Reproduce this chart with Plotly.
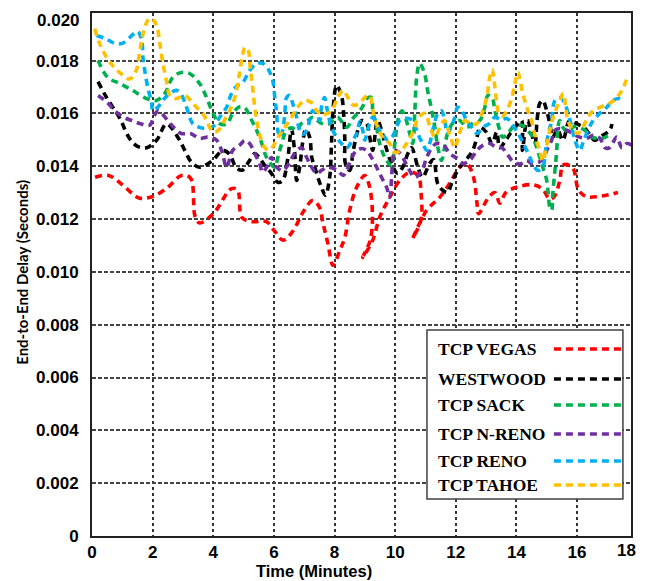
import plotly.graph_objects as go

# ---------------- data (x in minutes, y in seconds) ----------------
vegas_x = [0.1, 0.55, 1.0, 1.55, 2.0, 2.5, 2.95, 3.25, 3.4, 3.55, 4.0, 4.6, 4.8, 4.95, 5.3, 5.75,
           6.05, 6.3, 6.6, 7.0, 7.28, 7.5, 7.62, 7.78, 7.95, 8.17, 8.34, 8.5, 8.73, 9.0, 9.15, 9.25,
           9.18, 8.93, 9.26, 9.49, 9.82, 10.15, 10.48, 10.75, 10.86, 10.85, 10.58, 11.04, 11.47,
           11.8, 12.13, 12.36, 12.58, 12.7, 12.75, 13.1, 13.3, 13.45, 13.65, 14.0, 14.5, 14.85,
           15.1, 15.25, 15.42, 15.55, 15.85, 16.05, 16.3, 16.7, 17.35]
vegas_y = [0.01358, 0.01365, 0.01330, 0.01280, 0.01285, 0.01320, 0.01365, 0.01355, 0.01210, 0.01185,
           0.01220, 0.01315, 0.01310, 0.01205, 0.01190, 0.01190, 0.01150, 0.01120, 0.01150, 0.01233,
           0.01270, 0.01245, 0.01184, 0.01108, 0.01025, 0.01080, 0.01130, 0.01233, 0.01320, 0.01365,
           0.01325, 0.01220, 0.01120, 0.01055, 0.01120, 0.01207, 0.01282, 0.01346, 0.01377, 0.01365,
           0.01290, 0.01195, 0.01127, 0.01233, 0.01282, 0.01335, 0.01396, 0.01410, 0.01360, 0.01260,
           0.01220, 0.01285, 0.01300, 0.01260, 0.01300, 0.01320, 0.01330, 0.01315, 0.01275, 0.01285,
           0.01340, 0.01405, 0.01395, 0.01310, 0.01285, 0.01285, 0.01300]

westwood_x = [0.2, 0.48, 0.9, 1.24, 1.5, 1.8, 2.13, 2.46, 2.83, 3.06, 3.28, 3.55, 3.98, 4.31, 4.54,
              4.75, 4.95, 5.2, 5.37, 5.53, 5.7, 5.92, 6.13, 6.29, 6.45, 6.58, 6.68, 6.75, 6.85, 6.95,
              7.05, 7.18, 7.25, 7.35, 7.45, 7.57, 7.7, 7.84, 7.9, 7.95, 8.07, 8.23, 8.3, 8.34, 8.36,
              8.5, 8.62, 8.77, 8.9, 9.06, 9.16, 9.26, 9.42, 9.55, 9.66, 9.88, 10.08, 10.25, 10.42,
              10.54, 10.75, 10.9, 11.14, 11.27, 11.4, 11.57, 11.73, 11.86, 12.06, 12.23, 12.4, 12.56,
              12.7, 12.8, 13.0, 13.2, 13.35, 13.45, 13.6, 13.8, 14.05, 14.17, 14.2, 14.3, 14.37,
              14.61, 14.68, 14.77, 14.87, 15.0, 15.1, 15.2, 15.35, 15.53, 15.76, 16.0, 16.26, 16.48,
              16.58, 16.85, 17.08, 17.15]
westwood_y = [0.01720, 0.01660, 0.01585, 0.01505, 0.01475, 0.01470, 0.01498, 0.01560, 0.01510,
              0.01460, 0.01415, 0.01396, 0.01422, 0.01460, 0.01445, 0.01396, 0.01385, 0.01422,
              0.01448, 0.01430, 0.01403, 0.01373, 0.01339, 0.01346, 0.01422, 0.01540, 0.01460,
              0.01346, 0.01396, 0.01490, 0.01540, 0.01510, 0.01433, 0.01396, 0.01358, 0.01320,
              0.01290, 0.01358, 0.01486, 0.01610, 0.01706, 0.01668, 0.01600, 0.01500, 0.01410,
              0.01384, 0.01460, 0.01536, 0.01573, 0.01562, 0.01510, 0.01460, 0.01573, 0.01536,
              0.01486, 0.01410, 0.01373, 0.01396, 0.01448, 0.01470, 0.01396, 0.01358, 0.01410,
              0.01425, 0.01335, 0.01309, 0.01301, 0.01335, 0.01384, 0.01410, 0.01433, 0.01460,
              0.01510, 0.01547, 0.01530, 0.01486, 0.01530, 0.01470, 0.01490, 0.01524, 0.01560,
              0.01573, 0.01460, 0.01550, 0.01573, 0.01486, 0.01573, 0.01638, 0.01649, 0.01610,
              0.01562, 0.01510, 0.01540, 0.01498, 0.01573, 0.01560, 0.01543, 0.01510, 0.01498,
              0.01517, 0.01536, 0.01560]

sack_x = [0.2, 0.52, 0.91, 1.34, 1.8, 2.13, 2.4, 2.66, 2.95, 3.22, 3.55, 3.78, 3.98, 4.2, 4.45, 4.64,
          4.87, 5.05, 5.27, 5.43, 5.6, 5.76, 6.03, 6.13, 6.26, 6.42, 6.6, 6.75, 6.91, 7.12, 7.28,
          7.57, 7.8, 8.1, 8.4, 8.6, 8.9, 9.06, 9.22, 9.26, 9.39, 9.49, 9.66, 9.88, 9.99, 10.09,
          10.22, 10.35, 10.48, 10.58, 10.65, 10.71, 10.81, 10.97, 11.07, 11.21, 11.31, 11.41,
          11.53, 11.63, 11.73, 11.9, 12.13, 12.36, 12.56, 12.79, 12.96, 13.06, 13.2, 13.29, 13.45,
          13.55, 13.72, 13.88, 14.17, 14.37, 14.54, 14.67, 14.77, 14.87, 15.0, 15.05, 15.1, 15.16,
          15.2, 15.27, 15.33, 15.37, 15.43, 15.53, 15.7, 15.9, 16.1, 16.26, 16.48, 16.65, 16.85,
          17.08]
sack_y = [0.01800, 0.01736, 0.01713, 0.01687, 0.01656, 0.01649, 0.01675, 0.01736, 0.01755, 0.01751,
          0.01713, 0.01660, 0.01604, 0.01562, 0.01560, 0.01600, 0.01625, 0.01620, 0.01573, 0.01536,
          0.01486, 0.01433, 0.01396, 0.01433, 0.01486, 0.01536, 0.01545, 0.01536, 0.01562, 0.01573,
          0.01585, 0.01562, 0.01560, 0.01585, 0.01547, 0.01580, 0.01620, 0.01656, 0.01660, 0.01610,
          0.01547, 0.01486, 0.01433, 0.01403, 0.01486, 0.01573, 0.01610, 0.01580, 0.01524, 0.01486,
          0.01610, 0.01736, 0.01789, 0.01751, 0.01687, 0.01610, 0.01547, 0.01470, 0.01422, 0.01470,
          0.01524, 0.01562, 0.01573, 0.01547, 0.01562, 0.01573, 0.01623, 0.01668, 0.01660, 0.01610,
          0.01536, 0.01510, 0.01524, 0.01547, 0.01555, 0.01536, 0.01510, 0.01470, 0.01433, 0.01396,
          0.01346, 0.01297, 0.01245, 0.01233, 0.01297, 0.01384, 0.01460, 0.01547, 0.01573, 0.01547,
          0.01530, 0.01550, 0.01545, 0.01536, 0.01510, 0.01506, 0.01506, 0.01520]

nreno_x = [0.2, 0.5, 0.75, 1.05, 1.31, 1.57, 1.9, 2.05, 2.18, 2.5, 2.73, 2.95, 3.25, 3.55, 3.82, 4.1,
           4.3, 4.44, 4.64, 4.87, 5.05, 5.2, 5.37, 5.53, 5.63, 5.76, 5.92, 6.09, 6.29, 6.5, 6.68,
           6.91, 7.08, 7.25, 7.41, 7.57, 7.77, 8.1, 8.28, 8.4, 8.57, 8.73, 8.9, 9.05, 9.22, 9.39,
           9.55, 9.72, 9.82, 9.88, 9.92, 9.99, 10.1, 10.25, 10.42, 10.65, 10.88, 11.04, 11.21,
           11.37, 11.6, 11.8, 12.03, 12.23, 12.46, 12.7, 12.89, 13.12, 13.29, 13.52, 13.7, 13.85,
           14.0, 14.17, 14.34, 14.5, 14.84, 15.0, 15.16, 15.27, 15.43, 15.66, 15.86, 16.09, 16.33,
           16.53, 16.75, 16.92, 17.08, 17.31, 17.48, 17.64, 17.8]
nreno_y = [0.01668, 0.01642, 0.01610, 0.01585, 0.01573, 0.01562, 0.01555, 0.01590, 0.01610,
           0.01573, 0.01543, 0.01524, 0.01524, 0.01505, 0.01510, 0.01500, 0.01450, 0.01396,
           0.01460, 0.01480, 0.01498, 0.01486, 0.01448, 0.01410, 0.01377, 0.01396, 0.01433,
           0.01396, 0.01384, 0.01410, 0.01448, 0.01470, 0.01433, 0.01396, 0.01373, 0.01384,
           0.01396, 0.01384, 0.01365, 0.01384, 0.01433, 0.01460, 0.01467, 0.01460, 0.01433,
           0.01396, 0.01358, 0.01320, 0.01282, 0.01350, 0.01422, 0.01460, 0.01455, 0.01433,
           0.01396, 0.01358, 0.01384, 0.01433, 0.01470, 0.01486, 0.01480, 0.01448, 0.01430,
           0.01410, 0.01422, 0.01460, 0.01479, 0.01486, 0.01475, 0.01470, 0.01445, 0.01422,
           0.01410, 0.01410, 0.01422, 0.01410, 0.01422, 0.01460, 0.01498, 0.01536, 0.01543,
           0.01536, 0.01524, 0.01510, 0.01506, 0.01517, 0.01506, 0.01470, 0.01470, 0.01510,
           0.01470, 0.01486, 0.01480]

reno_x = [0.15, 0.45, 0.75, 1.0, 1.24, 1.5, 1.64, 1.68, 1.74, 1.84, 1.97, 2.0, 2.17, 2.33, 2.56, 2.79,
          2.95, 3.12, 3.22, 3.32, 3.55, 3.82, 4.05, 4.21, 4.44, 4.6, 4.8, 4.97, 5.2, 5.43, 5.63, 5.8,
          5.96, 6.03, 6.09, 6.13, 6.19, 6.29, 6.36, 6.42, 6.52, 6.62, 6.75, 6.85, 6.95, 7.08, 7.18,
          7.28, 7.4, 7.51, 7.57, 7.67, 7.75, 7.9, 8.07, 8.23, 8.4, 8.55, 8.73, 8.84, 8.93, 9.0,
          9.1, 9.26, 9.37, 9.49, 9.6, 9.76, 9.9, 10.05, 10.15, 10.38, 10.58, 10.7, 10.8, 10.91,
          11.04, 11.14, 11.24, 11.41, 11.53, 11.63, 11.73, 11.85, 11.97, 12.06, 12.2, 12.36, 12.53,
          12.7, 12.89, 13.12, 13.29, 13.5, 13.68, 13.85, 14.06, 14.23, 14.39, 14.54, 14.7, 14.87,
          14.95, 15.03, 15.16, 15.27, 15.43, 15.6, 15.7, 15.83, 15.93, 16.09, 16.2, 16.36, 16.53,
          16.75, 16.98, 17.18, 17.41, 17.51]
reno_y = [0.01895, 0.01883, 0.01865, 0.01865, 0.01887, 0.01910, 0.01876, 0.01812, 0.01763, 0.01698,
          0.01638, 0.01610, 0.01623, 0.01649, 0.01675, 0.01687, 0.01670, 0.01623, 0.01585, 0.01562,
          0.01547, 0.01543, 0.01555, 0.01585, 0.01623, 0.01675, 0.01706, 0.01717, 0.01762, 0.01789,
          0.01789, 0.01770, 0.01725, 0.01660, 0.01600, 0.01536, 0.01510, 0.01536, 0.01600, 0.01660,
          0.01668, 0.01638, 0.01585, 0.01536, 0.01520, 0.01536, 0.01573, 0.01610, 0.01600, 0.01573,
          0.01623, 0.01660, 0.01620, 0.01547, 0.01510, 0.01486, 0.01470, 0.01490, 0.01524, 0.01570,
          0.01536, 0.01498, 0.01540, 0.01585, 0.01570, 0.01536, 0.01520, 0.01498, 0.01510, 0.01547,
          0.01573, 0.01581, 0.01573, 0.01540, 0.01510, 0.01486, 0.01460, 0.01486, 0.01536, 0.01600,
          0.01610, 0.01573, 0.01524, 0.01550, 0.01585, 0.01623, 0.01610, 0.01573, 0.01547, 0.01524,
          0.01547, 0.01562, 0.01585, 0.01575, 0.01581, 0.01560, 0.01524, 0.01486, 0.01448, 0.01410,
          0.01384, 0.01396, 0.01450, 0.01510, 0.01573, 0.01649, 0.01660, 0.01638, 0.01600, 0.01547,
          0.01498, 0.01460, 0.01490, 0.01536, 0.01573, 0.01600, 0.01623, 0.01649, 0.01656, 0.01649]

tahoe_x = [0.09, 0.25, 0.48, 0.69, 0.98, 1.24, 1.45, 1.57, 1.67, 1.84, 1.95, 2.13, 2.23, 2.33, 2.46,
           2.56, 2.73, 2.89, 3.05, 3.25, 3.45, 3.65, 3.8, 3.9, 4.05, 4.2, 4.35, 4.54, 4.71, 4.85,
           4.95, 5.05, 5.15, 5.22, 5.3, 5.37, 5.45, 5.55, 5.7, 5.86, 6.03, 6.2, 6.36, 6.58, 6.78,
           7.02, 7.25, 7.41, 7.6, 7.9, 8.1, 8.28, 8.44, 8.65, 8.9, 9.05, 9.16, 9.25, 9.32, 9.45,
           9.59, 9.82, 9.99, 10.2, 10.38, 10.55, 10.65, 10.75, 10.98, 11.15, 11.31, 11.45, 11.63,
           11.8, 11.97, 12.08, 12.19, 12.3, 12.5, 12.7, 12.86, 13.02, 13.12, 13.2, 13.29, 13.35,
           13.42, 13.55, 13.68, 13.85, 13.95, 14.05, 14.2, 14.35, 14.5, 14.65, 14.77, 14.87, 15.0,
           15.2, 15.43, 15.55, 15.62, 15.7, 15.85, 16.03, 16.2, 16.36, 16.53, 16.8, 17.08, 17.31,
           17.48, 17.64]
tahoe_y = [0.01920, 0.01865, 0.01812, 0.01780, 0.01748, 0.01730, 0.01760, 0.01830, 0.01895, 0.01952,
           0.01960, 0.01933, 0.01870, 0.01795, 0.01720, 0.01670, 0.01656, 0.01660, 0.01668, 0.01650,
           0.01623, 0.01600, 0.01570, 0.01543, 0.01528, 0.01540, 0.01570, 0.01610, 0.01660, 0.01740,
           0.01810, 0.01850, 0.01840, 0.01774, 0.01698, 0.01623, 0.01562, 0.01510, 0.01470, 0.01462,
           0.01486, 0.01520, 0.01547, 0.01585, 0.01623, 0.01649, 0.01640, 0.01610, 0.01595, 0.01610,
           0.01660, 0.01687, 0.01660, 0.01630, 0.01649, 0.01665, 0.01668, 0.01620, 0.01585, 0.01540,
           0.01510, 0.01486, 0.01452, 0.01460, 0.01486, 0.01520, 0.01547, 0.01581, 0.01600, 0.01550,
           0.01510, 0.01540, 0.01573, 0.01520, 0.01470, 0.01510, 0.01547, 0.01573, 0.01560, 0.01562,
           0.01600, 0.01660, 0.01736, 0.01765, 0.01700, 0.01640, 0.01600, 0.01590, 0.01610, 0.01660,
           0.01713, 0.01755, 0.01680, 0.01620, 0.01570, 0.01500, 0.01460, 0.01420, 0.01480, 0.01580,
           0.01649, 0.01675, 0.01630, 0.01573, 0.01540, 0.01524, 0.01550, 0.01585, 0.01610, 0.01625,
           0.01638, 0.01660, 0.01687, 0.01730]

series_names = ["TCP VEGAS", "WESTWOOD", "TCP SACK", "TCP N-RENO", "TCP RENO", "TCP TAHOE"]
series_colors = ["#FF0000", "#000000", "#00B050", "#7030A0", "#00B0F0", "#FFC000"]
series_x = [vegas_x, westwood_x, sack_x, nreno_x, reno_x, tahoe_x]
series_y = [vegas_y, westwood_y, sack_y, nreno_y, reno_y, tahoe_y]

y_tickvals = [0, 0.002, 0.004, 0.006, 0.008, 0.010, 0.012, 0.014, 0.016, 0.018]
y_ticktext = ["0", "0.002", "0.004", "0.006", "0.008", "0.010", "0.012", "0.014", "0.016", "0.018"]
x_tickvals = [0, 2, 4, 6, 8, 10, 12, 14, 16]

DASH = "7px,5px"
tick_font = dict(family="Liberation Sans", size=17, color="#000000", weight="bold")

fig = go.Figure()
for name, col, xs, ys in zip(series_names, series_colors, series_x, series_y):
    fig.add_trace(go.Scatter(x=xs, y=ys, mode="lines", name=name, showlegend=False,
                             line=dict(color=col, width=3.6, dash=DASH, shape="spline", smoothing=1.0)))

# manual legend (text left, line sample right)
shapes = [dict(type="rect", xref="paper", yref="paper", x0=0.6215, x1=0.985, y0=0.0707, y1=0.394,
               line=dict(color="#404040", width=1.5), fillcolor="white", layer="above")]
annotations = []
leg_y = [0.3576, 0.3002, 0.2505, 0.195, 0.1434, 0.0975]
for name, col, yy in zip(series_names, series_colors, leg_y):
    annotations.append(dict(xref="paper", yref="paper", x=0.638, y=yy, text=name, showarrow=False,
                            xanchor="left", yanchor="middle",
                            font=dict(family="Liberation Serif", size=17.5, color="#000000", weight="bold")))
    shapes.append(dict(type="line", xref="paper", yref="paper", x0=0.857, x1=0.983, y0=yy, y1=yy,
                       line=dict(color=col, width=3.6, dash=DASH), layer="above"))

annotations.append(dict(xref="paper", yref="y", x=0, y=0.0195, text="0.020", showarrow=False,
                        xanchor="right", yanchor="middle", xshift=-10, font=tick_font))
annotations.append(dict(xref="x", yref="paper", x=17.64, y=0, text="18", showarrow=False,
                        xanchor="center", yanchor="top", yshift=-3, font=tick_font))
annotations.append(dict(xref="paper", yref="paper", x=0.411, y=-0.0858, text="Time (Minutes)",
                        showarrow=False, xanchor="center", yanchor="bottom", borderpad=0,
                        font=dict(family="Liberation Sans", size=16.5, color="#000000", weight="bold")))
annotations.append(dict(xref="paper", yref="paper", x=-0.13, y=0.505, text="End-to-End Delay (Seconds)",
                        showarrow=False, xanchor="center", yanchor="middle", textangle=-90,
                        font=dict(family="Lato", size=15, color="#000000", weight="bold")))

fig.update_layout(
    width=649, height=581,
    margin=dict(l=92, r=18, t=13, b=45),
    paper_bgcolor="white", plot_bgcolor="white",
    shapes=shapes, annotations=annotations,
    showlegend=False,
)
fig.update_xaxes(range=[0, 17.78], tickvals=x_tickvals, tickfont=tick_font,
                 showgrid=True, gridcolor="#333333", gridwidth=1.5, griddash="dot",
                 showline=True, linecolor="#222222", linewidth=2, mirror=True,
                 zeroline=False, ticks="", ticklabelstandoff=0)
fig.update_yaxes(range=[0, 0.0198], tickvals=y_tickvals, ticktext=y_ticktext, tickfont=tick_font,
                 showgrid=True, gridcolor="#444444", gridwidth=1.5, griddash="4px,2px",
                 showline=True, linecolor="#222222", linewidth=2, mirror=True,
                 zeroline=False, ticks="", ticklabelstandoff=8)

fig.write_html("out.html")
